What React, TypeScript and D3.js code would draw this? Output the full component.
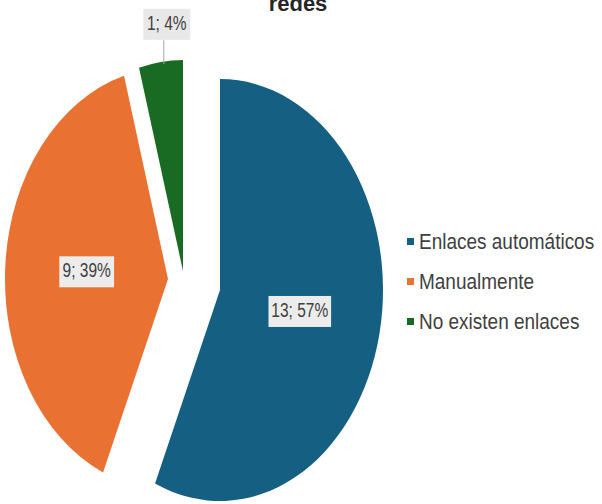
import * as d3 from "d3"

const categories = ["Enlaces automáticos", "Manualmente", "No existen enlaces"]
const counts = [13, 9, 1]
const colors = ["#156082", "#E97132", "#196B24"]
// per-slice explosion offsets (px) applied after the pie is laid out
const explode = [
  [30, 8],
  [-22, -3],
  [-7, -11],
]

export default function App() {
  const width = 602
  const height = 504
  const cx = 190
  const cy = 282
  const rx = 163
  const ry = 211
  const sx = rx / ry

  const total = d3.sum(counts)
  const pie = d3.pie<number>().sort(null).value((d) => d)
  const arcs = pie(counts)
  const arc = d3.arc<d3.PieArcDatum<number>>().innerRadius(0).outerRadius(ry)

  // point at fraction k of the radius along angle a, from a slice's own centre
  const pt = (a: number, k: number, i: number) => [
    cx + explode[i][0] + Math.sin(a) * rx * k,
    cy + explode[i][1] - Math.cos(a) * ry * k,
  ]

  const labels = arcs.map((a, i) => {
    const mid = (a.startAngle + a.endAngle) / 2
    const [x, y] = pt(mid, i === 2 ? 1.18 : 0.5, i)
    const pct = Math.round((counts[i] / total) * 100)
    return { x: i === 2 ? x + 10 : x, y, text: `${counts[i]}; ${pct}%`, mid }
  })

  const legendY = d3.scalePoint<string>().domain(categories).range([242, 322])

  return (
    <svg
      width={width}
      height={height}
      style={{ position: "absolute", left: 0, top: 0, background: "#fff" }}
      fontFamily="'Liberation Sans', Arial, sans-serif"
    >
      <text x={298} y={11} textAnchor="middle" fontSize={22} fontWeight="bold" fill="#262626">
        redes
      </text>

      {arcs.map((a, i) => (
        <g key={i} transform={`translate(${cx + explode[i][0]},${cy + explode[i][1]}) scale(${sx},1)`}>
          <path d={arc(a) || ""} fill={colors[i]} />
        </g>
      ))}

      {/* leader line for the small slice */}
      <line
        x1={labels[2].x - 3}
        y1={labels[2].y + 16}
        x2={labels[2].x - 3}
        y2={pt(labels[2].mid, 1, 2)[1] + 2}
        stroke="#a6a6a6"
        strokeWidth={1}
      />

      {labels.map((l, i) => {
        const w = l.text.length * 7.8 + 8
        return (
          <g key={i} transform={`translate(${l.x},${l.y})`}>
            <rect x={-w / 2} y={-15.5} width={w} height={31} fill={i === 2 ? "#e8e8e8" : "#ececec"} />
            <text transform="scale(1,1.3)" y={4} textAnchor="middle" fontSize={15.5} fill="#404040">
              {l.text}
            </text>
          </g>
        )
      })}

      {categories.map((c, i) => (
        <g key={c} transform={`translate(407,${legendY(c)})`}>
          <rect x={0} y={-4} width={7} height={7} fill={colors[i]} />
          <text x={12} transform="scale(1,1.12)" y={6.5} fontSize={19} fill="#404040">
            {c}
          </text>
        </g>
      ))}
    </svg>
  )
}
